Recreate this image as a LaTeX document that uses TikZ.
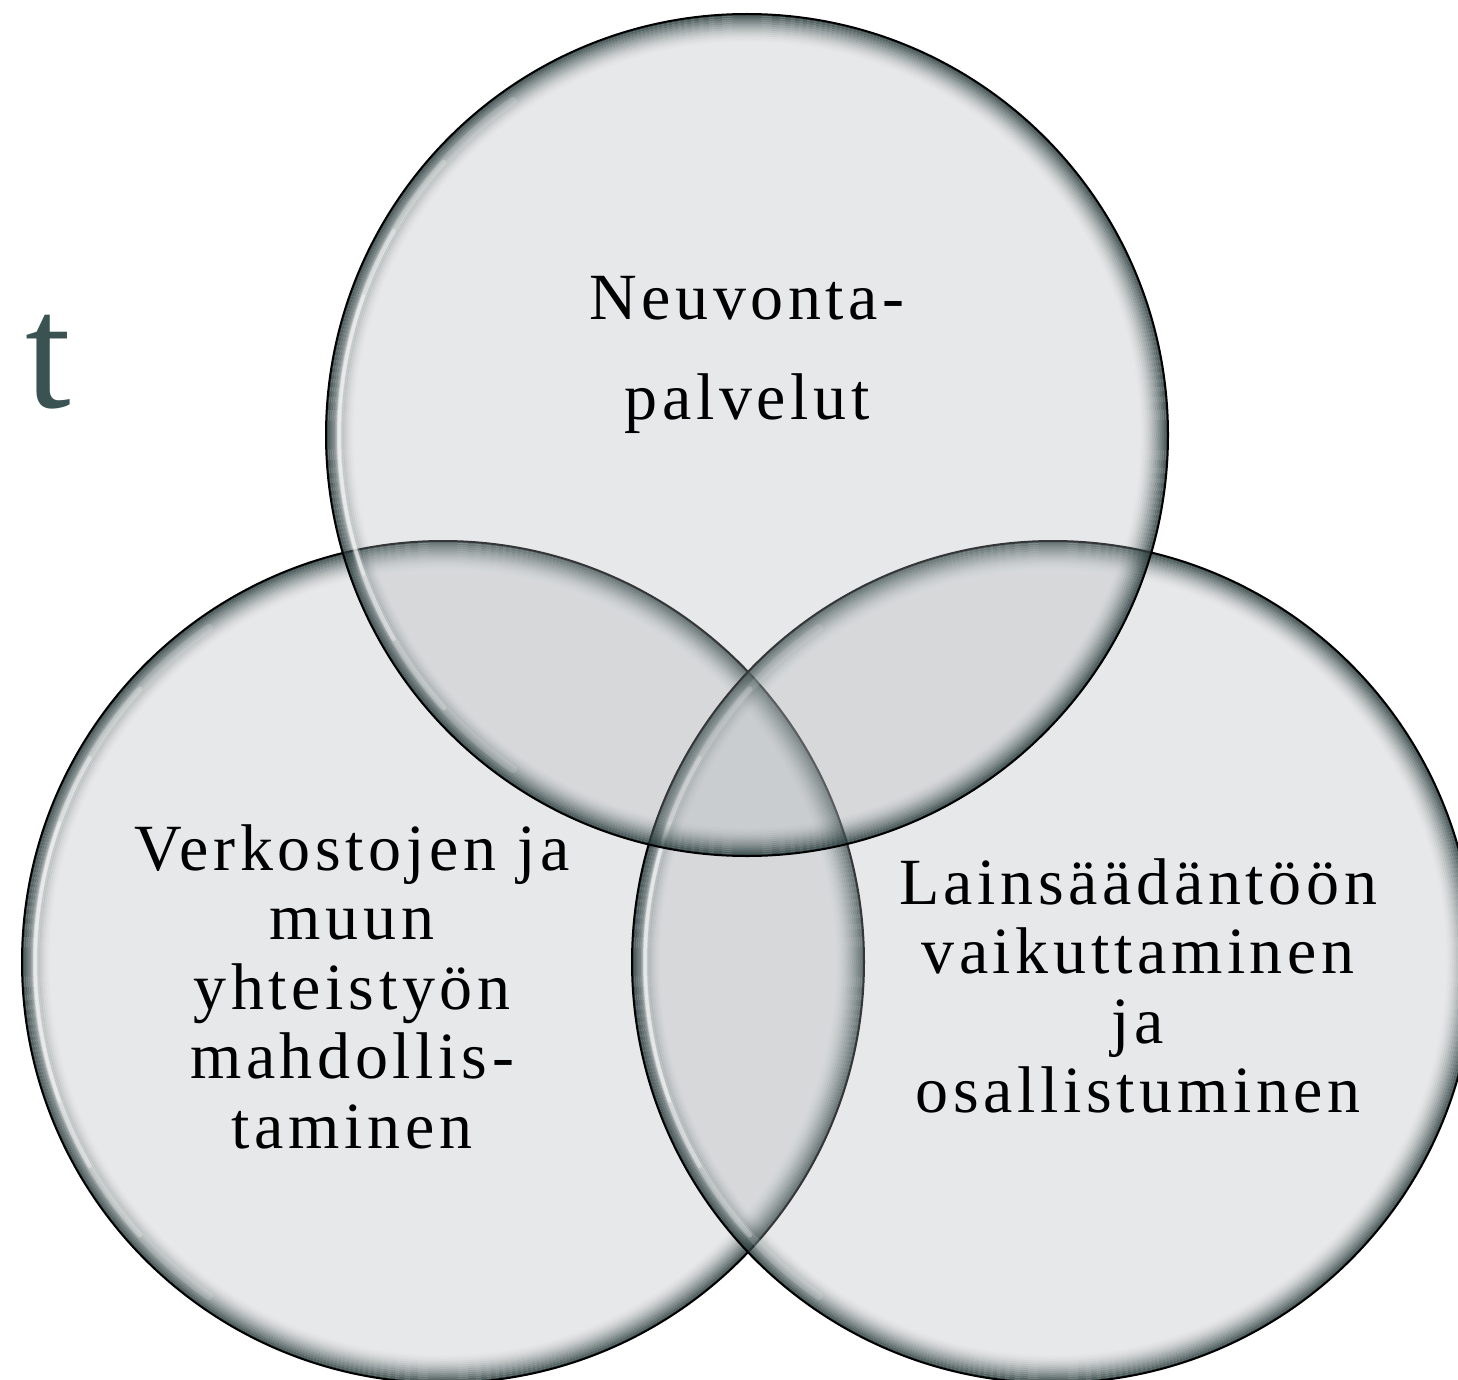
\documentclass[tikz,border=0pt]{standalone}
\usepackage{fontspec}
\setmainfont{Liberation Serif}[LetterSpace=7]
\newfontfamily\otsikkofont{Liberation Serif}
\definecolor{fillc}{RGB}{176,182,185}
\definecolor{rimc}{RGB}{30,50,50}
\definecolor{titlec}{RGB}{58,82,82}
\tikzstyle{bubble} = [circle, inner sep=0pt, minimum size=842pt, fill=fillc,
fill opacity=0.3]
\tikzstyle{teksti} = [inner sep=0pt, align=center, anchor=north,
font=\fontsize{66}{69.5}\selectfont]
\tikzstyle{hilite} = [draw=white, line cap=round]
\tikzstyle{rimline} = [draw=black, line width=2pt]
\newcommand{\rim}[2]{ %
  % Shaded glass rim of bubble #1 with radius #2 (pt).
  \foreach \k in {1,...,14} { %
    \pgfmathsetmacro{\op}{0.9*(1-\k/15)^1.7}
    \draw[draw=rimc, line width=2pt, draw opacity=\op]
      (#1.center) circle[radius=#2pt-2pt*\k+1pt] ;%
  } ;
  \foreach \s/\e/\o/\w in {125/235/0.15/8pt,138/222/0.25/5pt,150/210/0.35/4pt,160/200/0.4/3pt} { %
    \draw[hilite, line width=\w, draw opacity=\o] ([shift={(\s:#2pt-13pt)}]#1.center)
      arc[start angle=\s, end angle=\e, radius=#2pt-13pt] ;%
  } ;
  \draw[rimline] (#1.center) circle[radius=#2pt] ;%
}

\begin{document}
\begin{tikzpicture}[x=1pt, y=-1pt]
                \clip (0,0) rectangle (1458,1380);
                \fill[white] (0,0) rectangle (1458,1380);

                \node[text=titlec, inner sep=0pt, anchor=base west,
                  font=\otsikkofont\fontsize{164}{164}\selectfont] (otsikko) at (25,407) {t}; %

                \node[bubble] (verkosto) at (443,962) {} ; %
                \rim{verkosto}{421}
                \node[bubble] (laki) at (1053,962) {} ; %
                \rim{laki}{421}
                \node[bubble] (neuvonta) at (747,435) {} ; %
                \rim{neuvonta}{421}

                \node[teksti, font=\fontsize{66}{100}\selectfont] (nneuvonta) at (747,276) {Neuvonta-\\palvelut}; %
                \node[teksti] (nverkosto) at (352,824) {Verkostojen ja\\muun\\yhteistyön\\mahdollis-\\taminen}; %
                \node[teksti] (nlaki) at (1138,858) {Lainsäädäntöön\\vaikuttaminen\\ja\\osallistuminen}; %
\end{tikzpicture}
\end{document}
